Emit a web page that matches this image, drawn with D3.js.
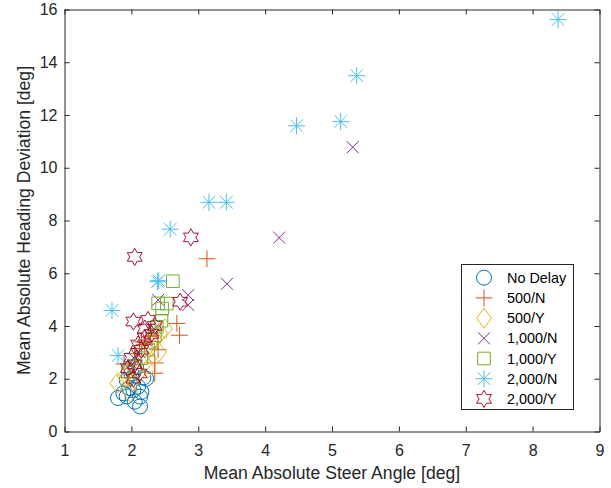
<!DOCTYPE html>
<html>
<head>
<meta charset="utf-8">
<script src="https://cdn.jsdelivr.net/npm/d3@7"></script>
<style>
  body { margin: 0; background: #fff; }
  svg { display: block; font-family: "Liberation Sans", Arial, sans-serif; }
  .axis path, .axis line { stroke: #262626; }
  .axis text { fill: #262626; font-size: 16px; }
</style>
</head>
<body>
<script>
(function() {
  'use strict';

  // series names (legend order = draw order)
  const seriesNames = ['No Delay', '500/N', '500/Y', '1,000/N', '1,000/Y', '2,000/N', '2,000/Y'];

  // [mean abs steer angle, mean abs heading deviation]
  const noDelay = [[1.80, 1.27], [1.93, 1.33], [2.05, 1.13], [2.13, 0.95], [2.13, 1.32], [2.10, 1.70],
    [2.03, 1.57], [1.93, 1.95], [2.18, 2.05], [2.22, 2.00], [2.00, 2.20], [2.07, 2.45], [1.97, 1.65],
    [2.15, 1.50], [1.88, 1.45]];
  const d500N = [[3.13, 6.55], [2.68, 4.10], [2.72, 3.65], [2.35, 2.21], [1.89, 2.56], [2.35, 2.60],
    [2.20, 3.30], [2.05, 2.95], [2.28, 3.60], [1.97, 2.05], [2.12, 3.15], [2.40, 3.10], [2.15, 3.40]];
  const d500Y = [[1.79, 1.83], [1.98, 1.50], [2.43, 3.73], [2.41, 3.01], [2.10, 2.20], [2.20, 2.60],
    [2.30, 3.25], [2.18, 2.90], [2.02, 1.90], [2.35, 3.50], [2.50, 3.90], [1.90, 2.10], [2.25, 2.40]];
  const d1000N = [[5.31, 10.78], [4.21, 7.35], [3.43, 5.60], [2.85, 5.17], [2.85, 4.80], [2.40, 4.99],
    [2.22, 3.45], [2.05, 2.75], [2.32, 3.85], [1.98, 2.35], [2.12, 3.00]];
  const d1000Y = [[2.62, 5.70], [2.40, 4.86], [2.46, 4.66], [2.53, 4.85], [2.38, 3.97], [2.15, 2.78],
    [1.95, 2.27], [2.30, 3.40], [2.25, 3.10], [2.35, 3.65], [2.05, 2.45], [2.45, 4.20]];
  const d2000N = [[8.38, 15.62], [5.37, 13.49], [4.47, 11.59], [5.13, 11.75], [3.16, 8.69], [3.42, 8.69],
    [2.58, 7.67], [2.39, 5.68], [2.41, 5.72], [1.71, 4.59], [1.80, 2.88]];
  const d2000Y = [[2.89, 7.36], [2.05, 6.62], [2.03, 4.17], [2.25, 4.23], [2.73, 4.92], [2.20, 3.90],
    [2.10, 3.30], [2.30, 3.70], [2.00, 2.80], [2.15, 3.10], [2.05, 2.55], [2.35, 4.00], [2.20, 3.55],
    [1.95, 2.40], [2.12, 2.20], [2.03, 2.00]];

  const xTicks = [1, 2, 3, 4, 5, 6, 7, 8, 9];
  const yTicks = [0, 2, 4, 6, 8, 10, 12, 14, 16];

  const colors = ['#0072BD', '#D95319', '#EDB120', '#7E2F8E', '#77AC30', '#4DBEEE', '#A2142F'];
  const shapes = ['circle', 'plus', 'diamond', 'cross', 'square', 'asterisk', 'hexagram'];
  const allSeries = [noDelay, d500N, d500Y, d1000N, d1000Y, d2000N, d2000Y];

  const w = 611;
  const h = 488;
  const left = 64.5, right = 599.5, top = 9.5, bottom = 431.5;

  const xScale = d3.scaleLinear().domain([1, 9]).range([left, right]);
  const yScale = d3.scaleLinear().domain([0, 16]).range([bottom, top]);

  // marker outlines, MATLAB style
  function markerPath(shape) {
    const p = d3.path();
    if (shape === 'circle') {
      p.moveTo(7.5, 0); p.arc(0, 0, 7.5, 0, 2 * Math.PI);
    } else if (shape === 'plus') {
      p.moveTo(-8.5, 0); p.lineTo(8.5, 0); p.moveTo(0, -8.5); p.lineTo(0, 8.5);
    } else if (shape === 'diamond') {
      p.moveTo(0, -10); p.lineTo(7.5, 0); p.lineTo(0, 10); p.lineTo(-7.5, 0); p.closePath();
    } else if (shape === 'cross') {
      p.moveTo(-6, -6); p.lineTo(6, 6); p.moveTo(-6, 6); p.lineTo(6, -6);
    } else if (shape === 'square') {
      p.rect(-6.3, -6.3, 12.6, 12.6);
    } else if (shape === 'asterisk') {
      const r = 8.5, d = 6.3;
      p.moveTo(-r, 0); p.lineTo(r, 0); p.moveTo(0, -r); p.lineTo(0, r);
      p.moveTo(-d, -d); p.lineTo(d, d); p.moveTo(-d, d); p.lineTo(d, -d);
    } else if (shape === 'hexagram') {
      const R = 8.6, ri = R / Math.sqrt(3);
      for (let i = 0; i < 12; i++) {
        const a = -Math.PI / 2 + i * Math.PI / 6;
        const rr = i % 2 === 0 ? R : ri;
        if (i === 0) p.moveTo(rr * Math.cos(a), rr * Math.sin(a));
        else p.lineTo(rr * Math.cos(a), rr * Math.sin(a));
      }
      p.closePath();
    }
    return p.toString();
  }

  const svg = d3.select('body').append('svg')
    .attr('width', w)
    .attr('height', h);

  // axes with inward ticks, box on all four sides
  svg.append('g').attr('class', 'axis')
    .attr('transform', 'translate(0,' + bottom + ')')
    .call(d3.axisBottom(xScale).tickValues(xTicks).tickSizeInner(-5).tickSizeOuter(0).tickPadding(13));
  svg.append('g').attr('class', 'axis')
    .attr('transform', 'translate(0,' + top + ')')
    .call(d3.axisTop(xScale).tickValues(xTicks).tickSizeInner(-5).tickSizeOuter(0).tickFormat(''));
  svg.append('g').attr('class', 'axis')
    .attr('transform', 'translate(' + left + ',0)')
    .call(d3.axisLeft(yScale).tickValues(yTicks).tickSizeInner(-5).tickSizeOuter(0).tickPadding(7));
  svg.append('g').attr('class', 'axis')
    .attr('transform', 'translate(' + right + ',0)')
    .call(d3.axisRight(yScale).tickValues(yTicks).tickSizeInner(-5).tickSizeOuter(0).tickFormat(''));

  svg.selectAll('.axis text').attr('font-family', '"Liberation Sans", Arial, sans-serif');

  // points
  allSeries.forEach(function(data, i) {
    svg.append('g')
      .selectAll('path')
      .data(data)
      .enter()
      .append('path')
      .attr('transform', (d) => 'translate(' + xScale(d[0]) + ',' + yScale(d[1]) + ')')
      .attr('d', markerPath(shapes[i]))
      .attr('fill', 'none')
      .attr('stroke', colors[i])
      .attr('stroke-width', 1);
  });

  // axis labels
  svg.append('text')
    .attr('x', (left + right) / 2)
    .attr('y', 479)
    .attr('text-anchor', 'middle')
    .attr('fill', '#262626')
    .attr('font-size', '17.6px')
    .text('Mean Absolute Steer Angle [deg]');

  svg.append('text')
    .attr('transform', 'translate(29.5,' + (top + bottom) / 2 + ') rotate(-90)')
    .attr('text-anchor', 'middle')
    .attr('fill', '#262626')
    .attr('font-size', '17.6px')
    .text('Mean Absolute Heading Deviation [deg]');

  // legend
  const legend = svg.append('g');
  legend.append('rect')
    .attr('x', 461.5).attr('y', 264.5)
    .attr('width', 112).attr('height', 145)
    .attr('fill', '#fff')
    .attr('stroke', '#262626')
    .attr('stroke-width', 1);

  const items = legend.selectAll('g.item')
    .data(seriesNames)
    .enter()
    .append('g')
    .attr('class', 'item')
    .attr('transform', (d, i) => 'translate(484,' + (277.7 + i * 20.2) + ')');

  items.append('path')
    .attr('d', (d, i) => markerPath(shapes[i]))
    .attr('fill', 'none')
    .attr('stroke', (d, i) => colors[i])
    .attr('stroke-width', 1);

  items.append('text')
    .attr('x', 23)
    .attr('dy', '0.36em')
    .attr('fill', '#000')
    .attr('font-size', '14.4px')
    .text((d) => d);
}());
</script>
</body>
</html>
